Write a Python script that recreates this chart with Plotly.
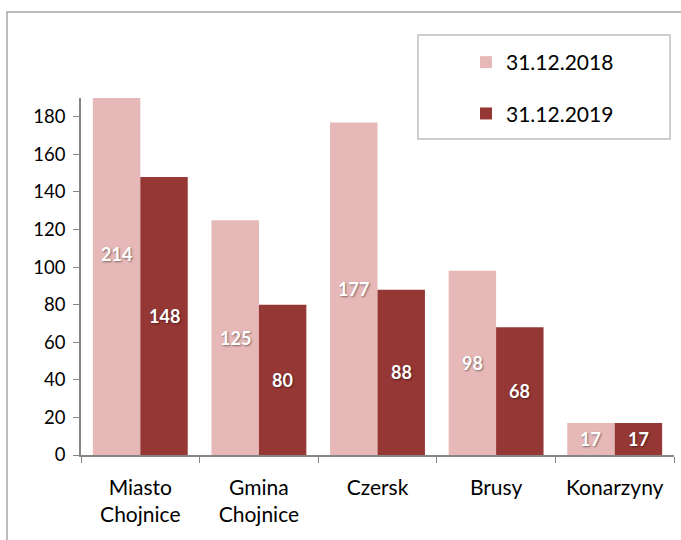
import plotly.graph_objects as go

categories = ["Miasto<br>Chojnice", "Gmina<br>Chojnice", "Czersk", "Brusy", "Konarzyny"]
series_names = ["31.12.2018", "31.12.2019"]
values_2018 = [214, 125, 177, 98, 17]
values_2019 = [148, 80, 88, 68, 17]
y_ticks = [0, 20, 40, 60, 80, 100, 120, 140, 160, 180]

colors = ["#E6B9B8", "#953735"]
FONT = "Lato, 'Open Sans', sans-serif"

W, H = 681, 540
L, R, T, B = 81, 7, 98, 85
pw, ph = W - L - R, H - T - B

def px_x(px):
    return (px - L) / pw

def px_y(py):
    return (H - B - py) / ph

fig = go.Figure()
for name, vals, col in zip(series_names, [values_2018, values_2019], colors):
    fig.add_trace(go.Bar(
        x=categories, y=vals, name=name, marker=dict(color=col, line=dict(width=0)),
        textposition="none", legendgroup=name,
    ))

# data labels centred on the full bar value
bar_px = pw / len(categories) * 0.8 / 2
for vals, shift in [(values_2018, -bar_px / 2), (values_2019, bar_px / 2)]:
    for c, v in zip(categories, vals):
        fig.add_annotation(
            x=c, y=v / 2, xref="x", yref="y", text=f"<b>{v}</b>", showarrow=False,
            xshift=shift, font=dict(family=FONT, size=18, color="white",
                                    shadow="1px 1px 2px rgba(0,0,0,0.45)"),
        )

# outer frame
fig.add_shape(type="rect", xref="paper", yref="paper",
              x0=px_x(7), x1=px_x(700), y0=px_y(560), y1=px_y(12),
              line=dict(color="#A6A6A6", width=1.5), layer="below")
# legend box
fig.add_shape(type="rect", xref="paper", yref="paper",
              x0=px_x(418), x1=px_x(670), y0=px_y(139), y1=px_y(35),
              line=dict(color="#BFBFBF", width=1.5), fillcolor="white", layer="below")

fig.update_layout(
    width=W, height=H,
    margin=dict(l=L, r=R, t=T, b=B),
    paper_bgcolor="white", plot_bgcolor="white",
    barmode="group", bargap=0.2, bargroupgap=0,
    font=dict(family=FONT, size=18, color="black"),
    showlegend=True,
    legend=dict(x=px_x(466), y=px_y(42), xanchor="left", yanchor="top",
                bgcolor="rgba(0,0,0,0)", borderwidth=0,
                font=dict(family=FONT, size=21, color="black"),
                traceorder="grouped", tracegroupgap=21, itemwidth=30),
    xaxis=dict(showline=True, linecolor="#868686", linewidth=1.5,
               ticks="outside", ticklen=6, tickcolor="#868686", tickson="boundaries",
               showgrid=False, tickfont=dict(size=21), ticklabelstandoff=13,
               fixedrange=True),
    yaxis=dict(range=[0, 190], tickvals=y_ticks, showline=True, linecolor="#868686",
               linewidth=1.5, ticks="outside", ticklen=6, tickcolor="#868686",
               showgrid=False, zeroline=False, tickfont=dict(size=18.5),
               ticklabelstandoff=4, fixedrange=True),
)

fig.write_html("out.html", config={"displayModeBar": False},
               post_script="document.body.style.margin='0';")
